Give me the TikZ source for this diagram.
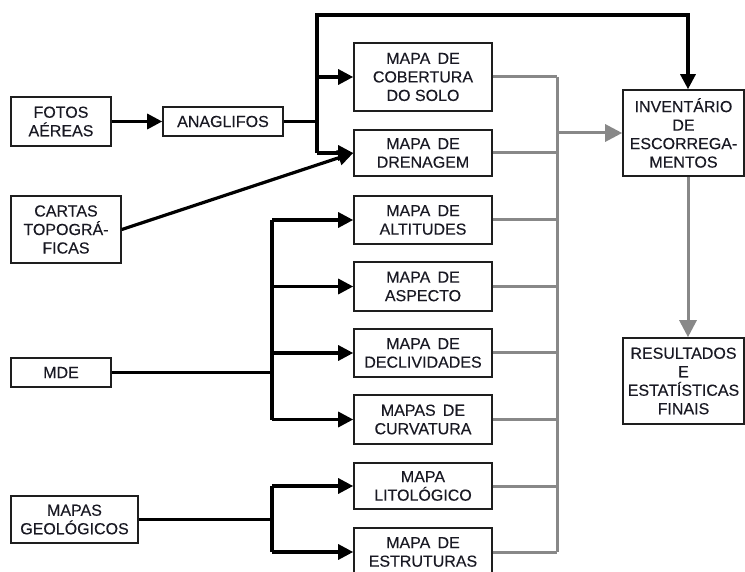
\documentclass[tikz,border=0pt]{standalone}
\usepackage{fontspec}
\setmainfont{Liberation Sans}
\newfontfamily\boxfont{Liberation Sans}[FakeBold=0.3]
\usetikzlibrary{arrows.meta}
\definecolor{lgray}{RGB}{136,136,136}
\definecolor{txt}{RGB}{25,25,35}
\newcommand\dsp{\hspace{0.45em}}
\begin{document}
\begin{tikzpicture}[x=1pt,y=-1pt,
  box/.style={draw,line width=1.6pt,draw={rgb,255:red,30;green,30;blue,30},inner sep=0pt,align=center,text=txt,
    font=\fontsize{16}{18.5}\selectfont\boxfont},
  blk/.style={line width=3.2pt,black},
  blkarr/.style={blk,-{Triangle[length=15pt,width=15pt]}},
  gry/.style={line width=3pt,lgray},
  gryarr/.style={gry,-{Triangle[length=17pt,width=17pt]}}]
\useasboundingbox (0,0) rectangle (745,572);
% left inputs
\node[box,minimum width=100pt,minimum height=49pt] (fotos) at (61,121.5) {FOTOS\\AÉREAS};
\node[box,minimum width=120pt,minimum height=29pt] (anag) at (223,121.5) {ANAGLIFOS};
\node[box,minimum width=110pt,minimum height=67pt] (cartas) at (66,229.5) {CARTAS\\TOPOGRÁ-\\FICAS};
\node[box,minimum width=100pt,minimum height=29pt] (mde) at (61,372.5) {MDE};
\node[box,minimum width=127pt,minimum height=47pt] (geol) at (74.5,519.5) {MAPAS\\GEOLÓGICOS};
% middle maps
\node[box,minimum width=138pt,minimum height=68pt] (cob) at (423,77) {MAPA\dsp DE\\COBERTURA\\DO SOLO};
\node[box,minimum width=138pt,minimum height=46pt] (dren) at (423,153) {MAPA\dsp DE\\DRENAGEM};
\node[box,minimum width=138pt,minimum height=48pt] (alt) at (423,220) {MAPA\dsp DE\\ALTITUDES};
\node[box,minimum width=138pt,minimum height=49pt] (asp) at (423,286.5) {MAPA\dsp DE\\ASPECTO};
\node[box,minimum width=138pt,minimum height=48pt] (decl) at (423,353) {MAPA\dsp DE\\DECLIVIDADES};
\node[box,minimum width=138pt,minimum height=49pt] (curv) at (423,419.5) {MAPAS\dsp DE\\CURVATURA};
\node[box,minimum width=138pt,minimum height=46pt] (lito) at (423,486) {MAPA\\LITOLÓGICO};
\node[box,minimum width=138pt,minimum height=48pt] (estr) at (423,552) {MAPA\dsp DE\\ESTRUTURAS};
% right
\node[box,minimum width=121pt,minimum height=86pt] (inv) at (683.5,133) {INVENTÁRIO\\DE\\ESCORREGA-\\MENTOS};
\node[box,minimum width=121pt,minimum height=86pt] (res) at (683.5,381) {RESULTADOS\\E\\ESTATÍSTICAS\\FINAIS};
% junction coordinates
\coordinate (ja) at (317,121.5);
\coordinate (jtop) at (317,15);
\coordinate (jbot) at (317,153);
\coordinate (tx) at (688,0);
\coordinate (jm) at (272,372.5);
\coordinate (jg) at (272,519.5);
\coordinate (bus) at (557,0);
% black connectors
\draw[blkarr] (fotos.east) -- (anag.west);
\draw[blk] (anag.east) -- (ja);
\draw[blkarr] (jbot) -- (jtop) -- (tx |- jtop) -- (tx |- inv.north);
\draw[blkarr] (jtop |- cob.west) -- (cob.west);
\draw[blkarr] (jtop |- dren.west) -- (dren.west);
\draw[blkarr] (cartas.east) -- (dren.west);
\draw[blk] (mde.east) -- (jm);
\draw[blk] (jm |- alt.west) -- (jm |- curv.west);
\foreach \n in {alt,asp,decl,curv} \draw[blkarr] (jm |- \n.west) -- (\n.west);
\draw[blk] (geol.east) -- (jg);
\draw[blk] (jg |- lito.west) -- (jg |- estr.west);
\foreach \n in {lito,estr} \draw[blkarr] (jg |- \n.west) -- (\n.west);
% gray connectors
\foreach \n in {cob,dren,alt,asp,decl,curv,lito,estr} \draw[gry] (\n.east) -- (bus |- \n.east);
\draw[gry] (bus |- cob.east) -- (bus |- estr.east);
\draw[gryarr] (bus |- inv.west) -- (inv.west);
\draw[gryarr] (tx |- inv.south) -- (tx |- res.north);
\end{tikzpicture}
\end{document}
